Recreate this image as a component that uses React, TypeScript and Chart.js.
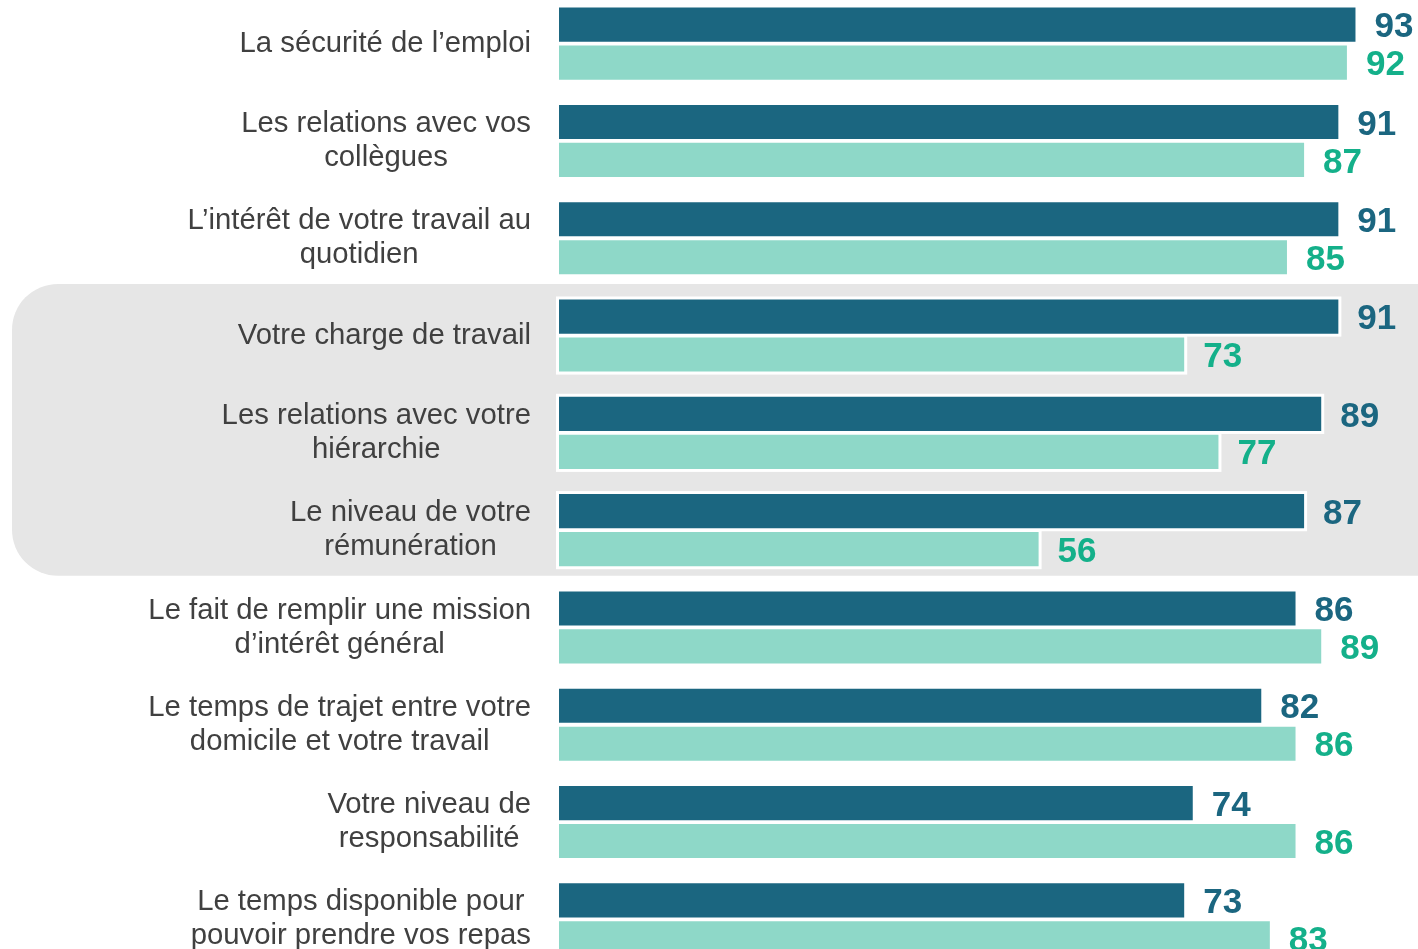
import React, { useEffect, useRef } from "react";
import { Chart, registerables } from "chart.js";

Chart.register(...registerables);

const categories: string[][] = [
  ["La sécurité de l’emploi"],
  ["Les relations avec vos", "collègues"],
  ["L’intérêt de votre travail au", "quotidien"],
  ["Votre charge de travail"],
  ["Les relations avec votre", "hiérarchie"],
  ["Le niveau de votre", "rémunération"],
  ["Le fait de remplir une mission", "d’intérêt général"],
  ["Le temps de trajet entre votre", "domicile et votre travail"],
  ["Votre niveau de", "responsabilité"],
  ["Le temps disponible pour", "pouvoir prendre vos repas"],
];

const seriesA: number[] = [93, 91, 91, 91, 89, 87, 86, 82, 74, 73];
const seriesB: number[] = [92, 87, 85, 73, 77, 56, 89, 86, 86, 83];

const highlighted: number[] = [3, 4, 5];

const DARK = "#1B6680";
const LIGHT = "#8ED8C8";
const GREEN = "#14B08A";
const TEXT = "#404040";
const FONT = '"Liberation Sans", Arial, sans-serif';

const chartPlugin = {
  id: "customDraw",
  beforeDatasetsDraw(chart: any) {
    const ctx = chart.ctx;
    const y = chart.scales.y;
    const first = Math.min(...highlighted);
    const last = Math.max(...highlighted);
    const top = y.getPixelForValue(first - 0.5) - 3;
    const bottom = y.getPixelForValue(last + 0.5) - 3;
    const left = 12;
    const right = chart.width + 60;
    const r = 46;
    ctx.save();
    ctx.fillStyle = "#E6E6E6";
    ctx.beginPath();
    ctx.moveTo(left + r, top);
    ctx.lineTo(right, top);
    ctx.lineTo(right, bottom);
    ctx.lineTo(left + r, bottom);
    ctx.arcTo(left, bottom, left, bottom - r, r);
    ctx.lineTo(left, top + r);
    ctx.arcTo(left, top, left + r, top, r);
    ctx.closePath();
    ctx.fill();

    // white outlines around highlighted bars
    ctx.fillStyle = "#FFFFFF";
    chart.data.datasets.forEach((_: any, di: number) => {
      const meta = chart.getDatasetMeta(di);
      highlighted.forEach((idx) => {
        const el = meta.data[idx];
        if (!el) return;
        const p = el.getProps(["x", "y", "base", "height"], true);
        const x0 = Math.min(p.x, p.base) - 3;
        const x1 = Math.max(p.x, p.base) + 3;
        ctx.fillRect(x0, p.y - p.height / 2 - 3, x1 - x0, p.height + 6);
      });
    });

    // category labels
    ctx.fillStyle = TEXT;
    ctx.font = `29.3px ${FONT}`;
    ctx.textBaseline = "middle";
    ctx.textAlign = "center";
    const rightEdge = 531;
    const lh = 34;
    categories.forEach((lines, i) => {
      const cy = y.getPixelForValue(i);
      const maxW = Math.max(...lines.map((l) => ctx.measureText(l).width));
      const cx = rightEdge - maxW / 2;
      lines.forEach((l, li) => {
        const ly = cy + (li - (lines.length - 1) / 2) * lh;
        ctx.fillText(l, cx, ly);
      });
    });
    ctx.restore();
  },
  afterDatasetsDraw(chart: any) {
    const ctx = chart.ctx;
    ctx.save();
    ctx.font = `bold 35px ${FONT}`;
    ctx.textBaseline = "middle";
    ctx.textAlign = "left";
    chart.data.datasets.forEach((ds: any, di: number) => {
      const meta = chart.getDatasetMeta(di);
      ctx.fillStyle = di === 0 ? DARK : GREEN;
      meta.data.forEach((el: any, i: number) => {
        const p = el.getProps(["x", "y"], true);
        ctx.fillText(String(ds.data[i]), p.x + 19, p.y + 3);
      });
    });
    ctx.restore();
  },
};

export default function App() {
  const ref = useRef<HTMLCanvasElement>(null);
  useEffect(() => {
    if (!ref.current) return;
    const chart = new Chart(ref.current, {
      type: "bar",
      data: {
        labels: categories.map((c) => c.join(" ")),
        datasets: [
          { data: seriesA, backgroundColor: DARK, borderWidth: 0 },
          { data: seriesB, backgroundColor: LIGHT, borderWidth: 0 },
        ],
      },
      options: {
        indexAxis: "y",
        responsive: false,
        animation: false,
        datasets: { bar: { categoryPercentage: 0.78, barPercentage: 0.9 } },
        layout: { padding: { left: 559, right: 0, top: 0, bottom: 0 } },
        scales: {
          x: { display: false, min: 0, max: 100.3 },
          y: { display: false },
        },
        plugins: {
          legend: { display: false },
          tooltip: { enabled: false },
        },
      },
      plugins: [chartPlugin],
    });
    return () => chart.destroy();
  }, []);
  return (
    <div
      style={{
        position: "fixed",
        left: 0,
        top: 0,
        width: 1418,
        height: 949,
        overflow: "hidden",
        background: "#fff",
      }}
    >
      <canvas
        ref={ref}
        width={1418}
        height={973}
        style={{ position: "absolute", left: 0, top: -5, display: "block" }}
      />
    </div>
  );
}
